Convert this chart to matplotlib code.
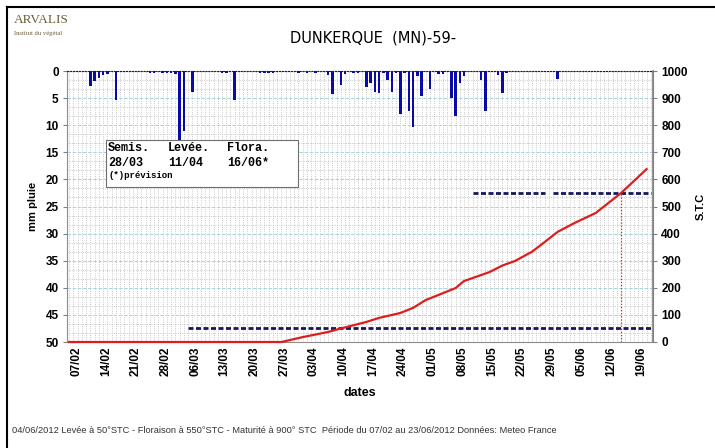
import matplotlib
matplotlib.use('Agg')
import matplotlib.pyplot as plt
import matplotlib.dates as mdates
import matplotlib.transforms as mtransforms
from matplotlib.patches import Rectangle
from matplotlib.lines import Line2D
from matplotlib.ticker import AutoMinorLocator
import pandas as pd

plt.rcParams['font.family'] = ['Liberation Sans', 'DejaVu Sans']

# daily rain (mm)
rain_dates = ['12/02', '13/02', '14/02', '15/02', '16/02', '18/02',
              '26/02', '27/02', '29/02', '01/03', '02/03', '03/03', '04/03', '05/03', '07/03',
              '14/03', '15/03', '17/03', '23/03', '24/03', '25/03', '26/03',
              '01/04', '03/04', '05/04', '08/04', '09/04', '11/04', '12/04', '14/04', '15/04',
              '17/04', '18/04', '19/04', '20/04', '21/04', '22/04', '23/04', '24/04', '25/04',
              '26/04', '27/04', '28/04', '29/04', '30/04', '02/05', '04/05', '05/05', '07/05',
              '08/05', '09/05', '10/05', '14/05', '15/05', '18/05', '19/05', '20/05', '01/06']
rain_mm = [2.8, 1.8, 1.2, 0.7, 0.5, 5.3,
           0.3, 0.3, 0.3, 0.3, 0.3, 0.5, 21.5, 11.0, 3.9,
           0.3, 0.3, 5.3, 0.3, 0.3, 0.3, 0.3,
           0.3, 0.3, 0.3, 0.7, 4.3, 2.6, 0.5, 0.3, 0.3,
           2.9, 2.3, 3.8, 4.1, 0.4, 1.7, 3.8, 0.4, 7.9,
           0.4, 7.3, 10.3, 1.0, 4.7, 3.4, 0.6, 0.6, 5.0,
           8.3, 2.3, 1.0, 1.7, 7.4, 0.7, 4.1, 0.4, 1.5]

# cumulated degree days (S.T.C)
stc_dates = ['07/02', '28/03', '02/04', '08/04', '11/04', '17/04', '20/04', '25/04',
             '28/04', '01/05', '05/05', '08/05', '10/05', '16/05', '19/05', '22/05',
             '26/05', '29/05', '01/06', '05/06', '10/06', '16/06', '22/06']
stc_values = [0, 0, 18, 37, 50, 74, 89, 107,
              126, 155, 180, 199, 225, 258, 282, 299,
              333, 369, 406, 439, 476, 550, 638]

levee_stc = 50
levee_from, levee_to = '06/03', '23/06'
flora_stc = 550
flora_segments = [('12/05', '29/05'), ('31/05', '23/06')]
flora_date = '16/06'

tick_labels = ['07/02', '14/02', '21/02', '28/02', '06/03', '13/03', '20/03', '27/03',
               '03/04', '10/04', '17/04', '24/04', '01/05', '08/05', '15/05', '22/05',
               '29/05', '05/06', '12/06', '19/06']
first_day, last_day = '07/02', '23/06'


def dnum(s):
    return mdates.date2num(pd.to_datetime(s + '/2012', format='%d/%m/%Y'))


W, H = 715, 448
fig = plt.figure(figsize=(W / 100, H / 100), dpi=100)


def fx(x):
    return x / W


def fy(y):
    return 1 - y / H


ax = fig.add_axes([fx(67), fy(342), (653 - 67) / W, (342 - 71) / H])
ax2 = ax.twinx()

blue = '#0a0aa8'
red = '#dc1e1e'
navy = '#15175a'

# rain bars hanging from the top
ax.bar([dnum(d) for d in rain_dates], rain_mm, width=0.6, color=blue, zorder=3)
ax.set_ylim(50, 0)
ax.set_yticks(range(0, 55, 5))
ax.yaxis.set_minor_locator(AutoMinorLocator(3))
ax.set_xlim(dnum(first_day) - 0.5, dnum(last_day) + 0.5)

days = pd.date_range(pd.to_datetime(first_day + '/2012', format='%d/%m/%Y'),
                     pd.to_datetime(last_day + '/2012', format='%d/%m/%Y'))
ax.set_xticks(mdates.date2num(days), minor=True)
ax.set_xticks([dnum(t) for t in tick_labels])
ax.set_xticklabels(tick_labels, rotation=90, fontsize=8.5, fontweight='bold')
ax.set_axisbelow(True)
ax.grid(True, which='minor', axis='both', ls=':', color='#b8b8b8', lw=0.6)
ax.grid(True, which='major', axis='y', ls='--', color='#a8d4dc', lw=0.7)
ax.grid(True, which='major', axis='x', ls=':', color='#b8b8b8', lw=0.6)
ax.tick_params(axis='x', which='both', length=0, pad=3)
ax.tick_params(axis='y', which='minor', length=0)
ax.tick_params(axis='y', which='major', length=3, color='#808080', pad=3)
for lab in ax.get_yticklabels():
    lab.set_fontsize(8.5)
    lab.set_fontweight('bold')
offset = mtransforms.ScaledTranslation(0.07, 0, fig.dpi_scale_trans)
for lab in ax.get_xticklabels():
    lab.set_transform(lab.get_transform() + offset)

ax.set_ylabel('mm pluie', fontsize=8, fontweight='bold', labelpad=5)
ax.set_xlabel('dates', fontsize=9, fontweight='bold')
ax.xaxis.set_label_coords(0.5, -0.165)

for s in ['left', 'bottom', 'right']:
    ax.spines[s].set_color('#8c8c8c')
ax.spines['top'].set_color(navy)
ax.spines['top'].set_linestyle(':')
ax.spines['top'].set_linewidth(0.8)

# S.T.C on the right axis
ax2.set_ylim(0, 1000)
ax2.set_yticks(range(0, 1100, 100))
ax2.tick_params(axis='y', length=3, color='#808080', pad=3)
for lab in ax2.get_yticklabels():
    lab.set_fontsize(8.5)
    lab.set_fontweight('bold')
ax2.set_ylabel('S.T.C', fontsize=8, fontweight='bold', labelpad=6)
ax2.spines['right'].set_color('#808080')
ax2.spines['right'].set_linewidth(1.2)
for s in ['left', 'bottom', 'top']:
    ax2.spines[s].set_visible(False)

ax2.plot([dnum(levee_from), dnum(levee_to)], [levee_stc, levee_stc], color=navy,
         lw=2, dashes=(1.8, 0.9), zorder=3)
for a, b in flora_segments:
    ax2.plot([dnum(a), dnum(b)], [flora_stc, flora_stc], color=navy,
             lw=2, dashes=(1.8, 0.9), zorder=3)
ax2.plot([dnum(flora_date), dnum(flora_date)], [0, flora_stc], color=red, lw=0.9,
         ls=(0, (1, 1.5)), zorder=3)
ax2.plot([dnum(d) for d in stc_dates], stc_values, color=red, lw=1.6, zorder=4,
         clip_on=False)

# info box
fig.add_artist(Rectangle((fx(106), fy(187)), (298 - 106) / W, (187 - 140) / H,
                         transform=fig.transFigure, facecolor='white',
                         edgecolor='#6e6e6e', lw=0.8, zorder=5))
mono = 'Liberation Mono'
for x, t1, t2 in [(108, 'Semis.', '28/03'), (168, 'Levée.', '11/04'), (227, 'Flora.', '16/06*')]:
    fig.text(fx(x), fy(148), t1, family=mono, fontweight='bold', fontsize=8.5,
             va='center', zorder=6)
    fig.text(fx(x), fy(162.5), t2, family=mono, fontweight='bold', fontsize=8.5,
             va='center', zorder=6)
fig.text(fx(108), fy(176), '(*)prévision', family=mono, fontweight='bold', fontsize=6.5,
         va='center', zorder=6)

# title, logo, footer
fig.text(fx(373), fy(38), 'DUNKERQUE  (MN)-59-', family='DejaVu Sans', fontsize=10.5,
         ha='center', va='center')
fig.text(fx(14), fy(20), 'ARVALIS', family='Liberation Serif', fontsize=9.5,
         color='#6a5f3c', va='center')
fig.text(fx(14), fy(33), 'Institut du végétal', family='Liberation Serif', fontsize=4.8,
         color='#6a5f3c', va='center')
fig.text(fx(12), fy(430), '04/06/2012 Levée à 50°STC - Floraison à 550°STC - Maturité à 900° STC  '
         'Période du 07/02 au 23/06/2012 Données: Meteo France', fontsize=6.7,
         color='#333333', va='center')

# frame (top and left edges visible)
fig.add_artist(Line2D([fx(7), 1], [fy(7), fy(7)], color='black', lw=1.5,
                      transform=fig.transFigure))
fig.add_artist(Line2D([fx(7), fx(7)], [fy(7), 0], color='black', lw=1.5,
                      transform=fig.transFigure))

fig.savefig('out.png', dpi=100)
